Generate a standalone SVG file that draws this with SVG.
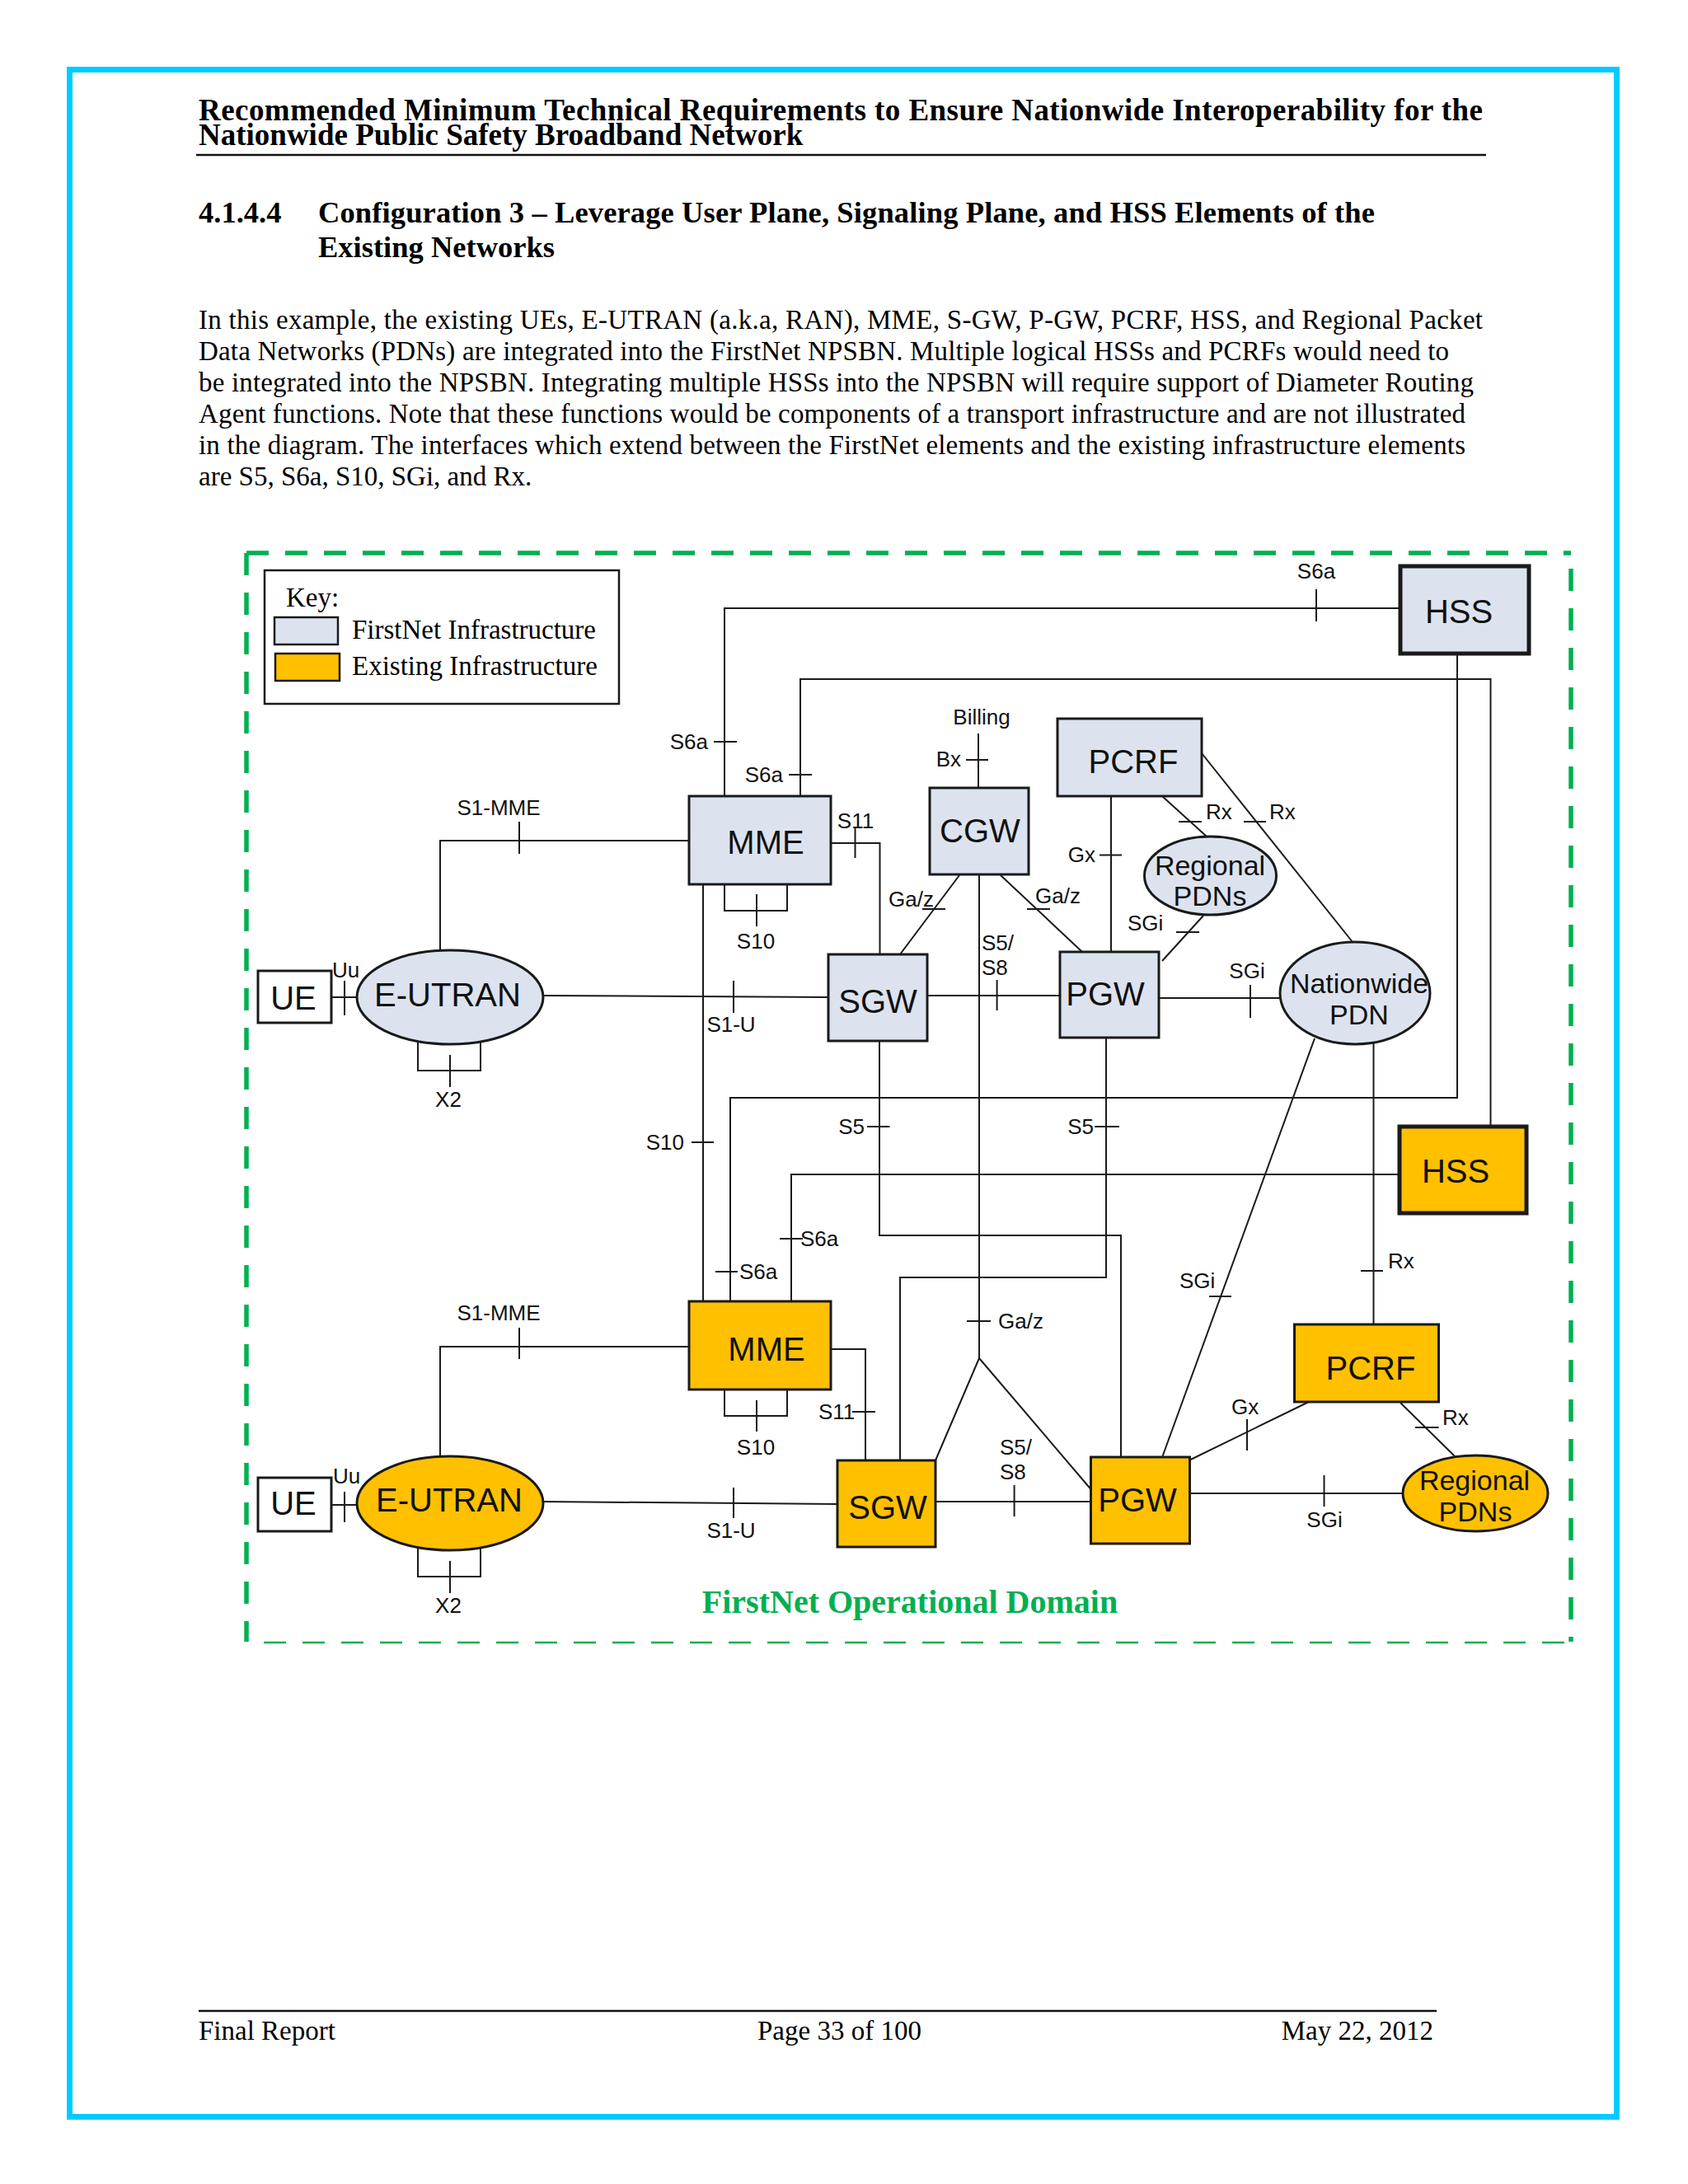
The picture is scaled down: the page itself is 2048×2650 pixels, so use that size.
<svg xmlns="http://www.w3.org/2000/svg" width="2048" height="2650" viewBox="0 0 2048 2650">
<style>
.serif{font-family:"Liberation Serif","Times New Roman",serif;fill:#000}
.b{font-weight:bold}
.lbl{font-family:"Liberation Sans",Arial,sans-serif;font-size:26px;fill:#111}
.nm{font-family:"Liberation Sans",Arial,sans-serif;font-size:40px;fill:#111;text-anchor:middle}
.nm2{font-family:"Liberation Sans",Arial,sans-serif;font-size:34px;fill:#111;text-anchor:middle}
.fn{fill:#DCE3EF;stroke:#1a1a1a;stroke-width:3}
.ex{fill:#FFC000;stroke:#1a1a1a;stroke-width:3}
.ln{fill:none;stroke:#1a1a1a;stroke-width:2}
.tk{fill:none;stroke:#1a1a1a;stroke-width:2}
.mid{text-anchor:middle}
.end{text-anchor:end}
.gd{stroke:#00B050;fill:none}
</style>
<rect x="0" y="0" width="2048" height="2650" fill="#ffffff"/>
<rect x="84.5" y="84.5" width="1877" height="2484" fill="none" stroke="#00CCFF" stroke-width="7"/>

<!-- header -->
<text class="serif b" x="241" y="146" font-size="37" textLength="1558" lengthAdjust="spacing">Recommended Minimum Technical Requirements to Ensure Nationwide Interoperability for the</text>
<text class="serif b" x="241" y="176" font-size="37">Nationwide Public Safety Broadband Network</text>
<line x1="238" y1="188" x2="1803" y2="188" stroke="#111" stroke-width="2.5"/>

<text class="serif b" x="241" y="270" font-size="36.5">4.1.4.4</text>
<text class="serif b" x="386" y="270" font-size="36.5" textLength="1282" lengthAdjust="spacing">Configuration 3 – Leverage User Plane, Signaling Plane, and HSS Elements of the</text>
<text class="serif b" x="386" y="312" font-size="36.5">Existing Networks</text>

<g class="serif" font-size="33">
<text x="241" y="399" textLength="1558" lengthAdjust="spacing">In this example, the existing UEs, E-UTRAN (a.k.a, RAN), MME, S-GW, P-GW, PCRF, HSS, and Regional Packet</text>
<text x="241" y="437" textLength="1517" lengthAdjust="spacing">Data Networks (PDNs) are integrated into the FirstNet NPSBN. Multiple logical HSSs and PCRFs would need to</text>
<text x="241" y="475" textLength="1547" lengthAdjust="spacing">be integrated into the NPSBN. Integrating multiple HSSs into the NPSBN will require support of Diameter Routing</text>
<text x="241" y="513" textLength="1537" lengthAdjust="spacing">Agent functions. Note that these functions would be components of a transport infrastructure and are not illustrated</text>
<text x="241" y="551" textLength="1537" lengthAdjust="spacing">in the diagram. The interfaces which extend between the FirstNet elements and the existing infrastructure elements</text>
<text x="241" y="589">are S5, S6a, S10, SGi, and Rx.</text>
</g>

<!-- operational domain border -->
<g id="domain">
<line class="gd" x1="299" y1="671" x2="1906" y2="671" stroke-width="5.5" stroke-dasharray="27 20"/>
<line class="gd" x1="299" y1="671" x2="299" y2="1992" stroke-width="5.5" stroke-dasharray="27 21"/>
<line class="gd" x1="1906" y1="690" x2="1906" y2="1992" stroke-width="5.5" stroke-dasharray="27 21"/>
<line class="gd" x1="320" y1="1993" x2="1900" y2="1993" stroke-width="2.5" stroke-dasharray="27 20"/>
<text class="serif b" x="1104" y="1957" font-size="40" text-anchor="middle" style="fill:#00B050">FirstNet Operational Domain</text>
</g>

<!-- key -->
<g id="key">
<rect x="321" y="692" width="430" height="162" fill="#fff" stroke="#1a1a1a" stroke-width="2.5"/>
<text class="serif" x="347" y="736" font-size="33">Key:</text>
<rect x="333" y="749" width="77" height="33" fill="#DCE3EF" stroke="#1a1a1a" stroke-width="2.5"/>
<rect x="334" y="793" width="78" height="33" fill="#FFC000" stroke="#1a1a1a" stroke-width="2.5"/>
<text class="serif" x="427" y="775" font-size="33">FirstNet Infrastructure</text>
<text class="serif" x="427" y="819" font-size="33">Existing Infrastructure</text>
</g>

<!-- connectors -->
<g id="connectors">
<polyline class="ln" points="1699,738 879,738 879,966"/>
<line class="tk" x1="1597" y1="715" x2="1597" y2="754"/>
<text class="lbl mid" x="1597" y="702">S6a</text>
<line class="tk" x1="866" y1="900" x2="894" y2="900"/>
<text class="lbl end" x="859" y="909">S6a</text>
<polyline class="ln" points="1808.5,1367 1808.5,824 971,824 971,966"/>
<line class="tk" x1="957" y1="940" x2="985" y2="940"/>
<text class="lbl end" x="950" y="949">S6a</text>
<polyline class="ln" points="1768,793 1768,1332 886,1332 886,1579"/>
<line class="tk" x1="868" y1="1543" x2="895" y2="1543"/>
<text class="lbl" x="897" y="1552">S6a</text>
<polyline class="ln" points="1698,1425 960,1425 960,1579"/>
<line class="tk" x1="946" y1="1503" x2="974" y2="1503"/>
<text class="lbl" x="971" y="1512">S6a</text>
<line class="ln" x1="853" y1="1073" x2="853" y2="1579"/>
<line class="tk" x1="839" y1="1386" x2="866" y2="1386"/>
<text class="lbl end" x="830" y="1395">S10</text>
<polyline class="ln" points="879,1073 879,1105 955,1105 955,1073"/>
<line class="tk" x1="918" y1="1085" x2="918" y2="1124"/>
<text class="lbl mid" x="917" y="1151">S10</text>
<polyline class="ln" points="879,1687 879,1718 955,1718 955,1687"/>
<line class="tk" x1="918" y1="1699" x2="918" y2="1737"/>
<text class="lbl mid" x="917" y="1765">S10</text>
<polyline class="ln" points="836,1020 534,1020 534,1153"/>
<line class="tk" x1="630" y1="997" x2="630" y2="1036"/>
<text class="lbl mid" x="605" y="989">S1-MME</text>
<polyline class="ln" points="836,1634 534,1634 534,1767"/>
<line class="tk" x1="630" y1="1611" x2="630" y2="1649"/>
<text class="lbl mid" x="605" y="1602">S1-MME</text>
<line class="ln" x1="402" y1="1210" x2="433" y2="1210"/>
<line class="tk" x1="418" y1="1190" x2="418" y2="1232"/>
<text class="lbl" x="403" y="1186" font-size="25">Uu</text>
<line class="ln" x1="402" y1="1826" x2="434" y2="1826"/>
<line class="tk" x1="418" y1="1810" x2="418" y2="1847"/>
<text class="lbl" x="404" y="1800" font-size="25">Uu</text>
<polyline class="ln" points="507,1262 507,1299 583,1299 583,1262"/>
<line class="tk" x1="546" y1="1280" x2="546" y2="1319"/>
<text class="lbl mid" x="544" y="1343">X2</text>
<polyline class="ln" points="507,1876 507,1913 583,1913 583,1876"/>
<line class="tk" x1="546" y1="1894" x2="546" y2="1933"/>
<text class="lbl mid" x="544" y="1957">X2</text>
<line class="ln" x1="659" y1="1208" x2="1005" y2="1210"/>
<line class="tk" x1="890" y1="1190" x2="890" y2="1229"/>
<text class="lbl mid" x="887" y="1252">S1-U</text>
<line class="ln" x1="659" y1="1822" x2="1016" y2="1825"/>
<line class="tk" x1="890" y1="1805" x2="890" y2="1842"/>
<text class="lbl mid" x="887" y="1866">S1-U</text>
<polyline class="ln" points="1008,1023 1067.5,1023 1067.5,1158"/>
<line class="tk" x1="1037.5" y1="1003" x2="1037.5" y2="1041"/>
<text class="lbl mid" x="1038" y="1005">S11</text>
<polyline class="ln" points="1008,1637 1050,1637 1050,1772"/>
<line class="tk" x1="1034" y1="1713" x2="1062" y2="1713"/>
<text class="lbl" x="993" y="1722">S11</text>
<line class="ln" x1="1187" y1="890" x2="1187" y2="956"/>
<line class="tk" x1="1172" y1="922" x2="1199" y2="922"/>
<text class="lbl end" x="1166" y="930">Bx</text>
<text class="lbl mid" x="1191" y="879">Billing</text>
<line class="ln" x1="1164" y1="1062" x2="1092" y2="1158"/>
<line class="tk" x1="1119" y1="1103" x2="1147" y2="1103"/>
<text class="lbl" x="1078" y="1100">Ga/z</text>
<line class="ln" x1="1214" y1="1062" x2="1313" y2="1155"/>
<line class="tk" x1="1246" y1="1103" x2="1274" y2="1103"/>
<text class="lbl" x="1256" y="1096">Ga/z</text>
<polyline class="ln" points="1188,1061 1188,1648 1135,1772"/>
<line class="ln" x1="1188" y1="1648" x2="1323.5" y2="1807"/>
<line class="tk" x1="1173" y1="1603" x2="1202" y2="1603"/>
<text class="lbl" x="1211" y="1612">Ga/z</text>
<line class="ln" x1="1125" y1="1208" x2="1286" y2="1208"/>
<line class="tk" x1="1209.6" y1="1189" x2="1209.6" y2="1226"/>
<text class="lbl" x="1191" y="1153">S5/</text>
<text class="lbl" x="1191" y="1183">S8</text>
<line class="ln" x1="1135" y1="1822" x2="1323.5" y2="1822"/>
<line class="tk" x1="1230.6" y1="1802" x2="1230.6" y2="1840"/>
<text class="lbl" x="1213" y="1765">S5/</text>
<text class="lbl" x="1213" y="1795">S8</text>
<polyline class="ln" points="1067,1263 1067,1499 1360,1499 1360,1768"/>
<line class="tk" x1="1052" y1="1367" x2="1079.5" y2="1367"/>
<text class="lbl end" x="1049" y="1376">S5</text>
<polyline class="ln" points="1342,1259 1342,1550 1092,1550 1092,1772"/>
<line class="tk" x1="1328" y1="1367" x2="1358" y2="1367"/>
<text class="lbl end" x="1327" y="1376">S5</text>
<line class="ln" x1="1348" y1="966" x2="1348" y2="1155"/>
<line class="tk" x1="1334" y1="1037.5" x2="1361" y2="1037.5"/>
<text class="lbl end" x="1329" y="1046">Gx</text>
<line class="ln" x1="1410" y1="966" x2="1464" y2="1015"/>
<line class="tk" x1="1430" y1="997" x2="1458" y2="997"/>
<text class="lbl" x="1463" y="994">Rx</text>
<line class="ln" x1="1458" y1="914" x2="1641" y2="1143"/>
<line class="tk" x1="1509" y1="997" x2="1536" y2="997"/>
<text class="lbl" x="1540" y="994">Rx</text>
<line class="ln" x1="1410" y1="1166" x2="1460" y2="1111"/>
<line class="tk" x1="1427" y1="1131" x2="1455" y2="1131"/>
<text class="lbl" x="1368" y="1129">SGi</text>
<line class="ln" x1="1406" y1="1211" x2="1553" y2="1211"/>
<line class="tk" x1="1517" y1="1195" x2="1517" y2="1235"/>
<text class="lbl mid" x="1513" y="1187">SGi</text>
<line class="ln" x1="1595" y1="1260" x2="1410.5" y2="1767"/>
<line class="tk" x1="1467" y1="1573" x2="1494" y2="1573"/>
<text class="lbl" x="1431" y="1563">SGi</text>
<line class="ln" x1="1666.5" y1="1264" x2="1666.5" y2="1607"/>
<line class="tk" x1="1651" y1="1542" x2="1678" y2="1542"/>
<text class="lbl" x="1684" y="1539">Rx</text>
<line class="ln" x1="1444.6" y1="1771" x2="1590" y2="1700"/>
<line class="tk" x1="1513" y1="1722" x2="1513" y2="1760"/>
<text class="lbl" x="1494" y="1716">Gx</text>
<line class="ln" x1="1699" y1="1702" x2="1765" y2="1767"/>
<line class="tk" x1="1717" y1="1732" x2="1745.6" y2="1732"/>
<text class="lbl" x="1750" y="1729">Rx</text>
<line class="ln" x1="1443.6" y1="1812" x2="1702" y2="1812"/>
<line class="tk" x1="1606.5" y1="1790" x2="1606.5" y2="1828"/>
<text class="lbl mid" x="1607" y="1853">SGi</text>
</g>

<!-- nodes: FirstNet -->
<g id="hss-firstnet"><rect x="1699" y="687" width="156" height="106" class="fn" style="stroke-width:5"/><text class="nm" x="1770" y="756">HSS</text></g>
<g id="mme-firstnet"><rect x="836" y="966" width="172" height="107" class="fn"/><text class="nm" x="929" y="1036">MME</text></g>
<g id="cgw"><rect x="1128" y="956" width="120" height="105" class="fn"/><text class="nm" x="1189" y="1022">CGW</text></g>
<g id="pcrf-firstnet"><rect x="1283" y="872" width="175" height="94" class="fn"/><text class="nm" x="1375" y="938">PCRF</text></g>
<g id="regional-pdns-firstnet"><ellipse cx="1468.5" cy="1062.5" rx="80" ry="47.5" class="fn"/><text class="nm2" x="1468" y="1062">Regional</text><text class="nm2" x="1468" y="1099">PDNs</text></g>
<g id="ue-1"><rect x="313" y="1178" width="89" height="63" fill="#fff" stroke="#1a1a1a" stroke-width="3"/><text class="nm" x="356" y="1225">UE</text></g>
<g id="eutran-firstnet"><ellipse cx="546" cy="1210" rx="113" ry="57" class="fn"/><text class="nm" x="543" y="1221">E-UTRAN</text></g>
<g id="sgw-firstnet"><rect x="1005" y="1158" width="120" height="105" class="fn"/><text class="nm" x="1065" y="1229">SGW</text></g>
<g id="pgw-firstnet"><rect x="1286" y="1155" width="120" height="104" class="fn"/><text class="nm" x="1341" y="1220">PGW</text></g>
<g id="nationwide-pdn"><ellipse cx="1644" cy="1205" rx="91" ry="62" class="fn"/><text class="nm2" x="1649" y="1205" font-size="33">Nationwide</text><text class="nm2" x="1649" y="1243" font-size="33">PDN</text></g>

<!-- nodes: Existing -->
<g id="hss-existing"><rect x="1698" y="1367" width="154" height="105" class="ex" style="stroke-width:5"/><text class="nm" x="1766" y="1435">HSS</text></g>
<g id="mme-existing"><rect x="836" y="1579" width="172" height="107" class="ex"/><text class="nm" x="930" y="1651">MME</text></g>
<g id="ue-2"><rect x="313" y="1793" width="89" height="65" fill="#fff" stroke="#1a1a1a" stroke-width="3"/><text class="nm" x="356" y="1838">UE</text></g>
<g id="eutran-existing"><ellipse cx="546" cy="1824" rx="113" ry="57" class="ex"/><text class="nm" x="545" y="1834">E-UTRAN</text></g>
<g id="sgw-existing"><rect x="1016" y="1772" width="119" height="105" class="ex"/><text class="nm" x="1077" y="1843">SGW</text></g>
<g id="pgw-existing"><rect x="1323.5" y="1768" width="120" height="105" class="ex"/><text class="nm" x="1380" y="1834">PGW</text></g>
<g id="pcrf-existing"><rect x="1570.5" y="1607" width="175" height="94" class="ex"/><text class="nm" x="1663" y="1674">PCRF</text></g>
<g id="regional-pdns-existing"><ellipse cx="1790" cy="1812" rx="88" ry="46" class="ex"/><text class="nm2" x="1789" y="1808">Regional</text><text class="nm2" x="1790" y="1846">PDNs</text></g>

<!-- footer -->
<line x1="241" y1="2440" x2="1743" y2="2440" stroke="#111" stroke-width="2.5"/>
<text class="serif" x="241" y="2475" font-size="33">Final Report</text>
<text class="serif" x="919" y="2475" font-size="33">Page 33 of 100</text>
<text class="serif" x="1739" y="2475" font-size="33" text-anchor="end">May 22, 2012</text>
</svg>
